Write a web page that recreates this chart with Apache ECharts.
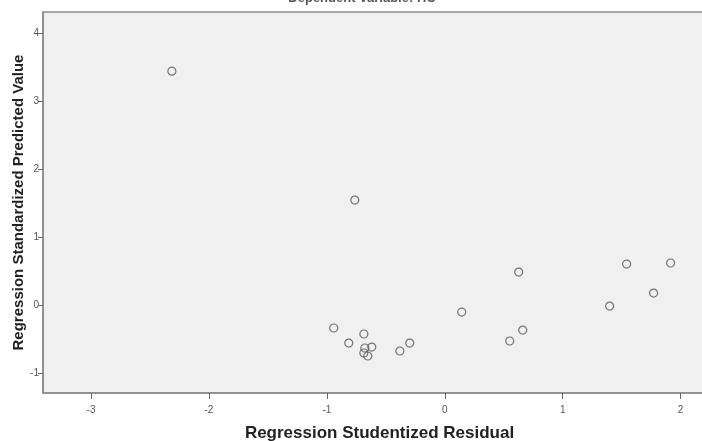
<!DOCTYPE html>
<html><head><meta charset="utf-8">
<script src="https://cdn.jsdelivr.net/npm/echarts@6/dist/echarts.min.js"></script>
<style>html,body{margin:0;padding:0;background:#fff}#c{width:702px;height:441px}</style>
</head><body><div id="c"></div>
<script>
const residual = [-2.314,-0.763,-0.941,-0.814,-0.686,-0.678,-0.619,-0.686,-0.653,-0.381,-0.297,0.144,0.551,0.661,0.627,1.398,1.542,1.771,1.915];
const predicted = [3.44,1.544,-0.338,-0.559,-0.426,-0.632,-0.618,-0.706,-0.75,-0.676,-0.559,-0.103,-0.529,-0.368,0.485,-0.015,0.603,0.176,0.618];
const xTicks = [-3,-2,-1,0,1,2];
const yTicks = [-1,0,1,2,3,4];
const titleText = 'Dependent Variable: HC';
const xName = 'Regression Studentized Residual';
const yName = 'Regression Standardized Predicted Value';

const chart = echarts.init(document.getElementById('c'), null, {renderer:'canvas'});
chart.setOption({
  animation:false,
  backgroundColor:'#ffffff',
  title:{text:titleText,left:357,textAlign:'center',top:-13,textStyle:{fontFamily:'Liberation Sans',fontSize:13,fontWeight:'bold',color:'#555'}},
  grid:{left:43,top:12,right:-14,bottom:48,outerBoundsMode:'none',containLabel:false,show:true,backgroundColor:'#f0f0f0',borderColor:'#8a8a8a',borderWidth:1.5},
  xAxis:{type:'value',min:-3.407,max:2.3,
    name:xName,nameLocation:'middle',nameGap:32,nameMoveOverlap:false,
    nameTextStyle:{fontFamily:'Liberation Sans',fontSize:17,fontWeight:'bold',color:'#222'},
    axisLine:{show:true,onZero:false,lineStyle:{color:'#8a8a8a',width:1.5}},
    axisTick:{show:true,length:6,customValues:xTicks,lineStyle:{color:'#666'}},
    axisLabel:{customValues:xTicks,fontFamily:'Liberation Sans',fontSize:10,color:'#555',margin:12},
    splitLine:{show:false}},
  yAxis:{type:'value',min:-1.294,max:4.31,
    name:yName,nameLocation:'middle',nameGap:17,nameMoveOverlap:false,
    nameTextStyle:{fontFamily:'Liberation Sans',fontSize:15,fontWeight:'bold',color:'#222'},
    axisLine:{show:true,onZero:false,lineStyle:{color:'#8a8a8a',width:1.5}},
    axisTick:{show:true,length:5,customValues:yTicks,lineStyle:{color:'#666'}},
    axisLabel:{customValues:yTicks,fontFamily:'Liberation Sans',fontSize:10,color:'#555',margin:4},
    splitLine:{show:false}},
  series:[{type:'scatter',data:residual.map((x,i)=>[x,predicted[i]]),
    symbol:'circle',symbolSize:8,
    itemStyle:{color:'rgba(240,240,240,0)',borderColor:'#555',borderWidth:1.2}}]
});
</script></body></html>
